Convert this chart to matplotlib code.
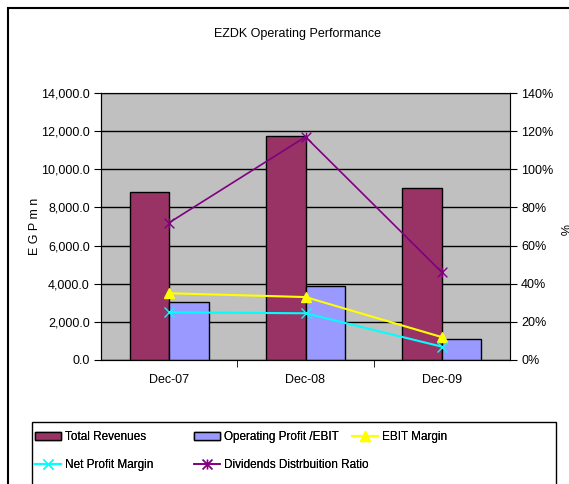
import matplotlib
matplotlib.use("Agg")
import matplotlib.pyplot as plt
from matplotlib.patches import Rectangle
from matplotlib.path import Path
from matplotlib.ticker import FuncFormatter, FixedLocator
import numpy as np

plt.rcParams['font.family'] = ['Liberation Sans Narrow', 'Liberation Sans', 'DejaVu Sans']

# data
periods = ["Dec-07", "Dec-08", "Dec-09"]
total_revenues = [8800, 11750, 9000]
operating_profit = [3050, 3880, 1100]
ebit_margin = [0.35, 0.33, 0.12]
net_profit_margin = [0.25, 0.245, 0.07]
dividend_ratio = [0.72, 1.17, 0.46]

fig = plt.figure(figsize=(5.69, 4.84), dpi=100)
W, H = 569, 484

# outer chart border (cut off on right/bottom like the original)
fig.patches.append(Rectangle((8 / W, -0.1), 1.2, 1.1 - 8 / H, transform=fig.transFigure,
                             fill=False, edgecolor='black', linewidth=1.5))
# legend box
fig.patches.append(Rectangle((32 / W, -0.1), (556 - 32) / W, 0.1 + 1 - 422 / H, transform=fig.transFigure,
                             fill=False, edgecolor='black', linewidth=1.0))

ax = fig.add_axes([101 / W, 1 - 360 / H, (510 - 101) / W, (360 - 93) / H])
ax.set_facecolor('#C0C0C0')
x = np.arange(len(periods))
bw = 0.29
b1 = ax.bar(x - bw / 2, total_revenues, bw, color='#993366', edgecolor='black', linewidth=1, zorder=3,
            label='Total Revenues')
b2 = ax.bar(x + bw / 2, operating_profit, bw, color='#9999FF', edgecolor='black', linewidth=1, zorder=3,
            label='Operating Profit /EBIT')
ax.set_xlim(-0.5, 2.5)
ax.set_ylim(0, 14000)
ax.set_yticks(np.arange(0, 14001, 2000))
ax.yaxis.set_major_formatter(FuncFormatter(lambda v, p: '{:,.1f}'.format(v)))
ax.grid(axis='y', color='black', linewidth=1, zorder=1)
ax.set_xticks(x)
ax.set_xticklabels(periods)
ax.tick_params(axis='x', which='major', length=0, pad=10, labelsize=9)
ax.xaxis.set_minor_locator(FixedLocator([0.5, 1.5]))
ax.tick_params(axis='x', which='minor', length=5, direction='out')
ax.tick_params(axis='y', length=5, direction='out', labelsize=9, pad=3)
ax.set_ylabel('E G P m n', fontsize=9)
ax.yaxis.set_label_coords((41 - 101) / 409, 0.5)
for s in ['top', 'right']:
    ax.spines[s].set_color('#808080')

star = Path([(-1, -1), (1, 1), (-1, 1), (1, -1), (0, -1), (0, 1)],
            [Path.MOVETO, Path.LINETO, Path.MOVETO, Path.LINETO, Path.MOVETO, Path.LINETO])

ax2 = ax.twinx()
ax2.set_ylim(0, 1.4)
ax2.set_yticks(np.arange(0, 1.41, 0.2))
ax2.yaxis.set_major_formatter(FuncFormatter(lambda v, p: '{:.0f}%'.format(v * 100)))
ax2.tick_params(axis='y', length=5, direction='out', labelsize=9, pad=3)
ax2.spines['right'].set_color('black')
l1, = ax2.plot(x, ebit_margin, color='#FFFF00', marker='^', markersize=7, linewidth=1.5,
               label='EBIT Margin')
l2, = ax2.plot(x, net_profit_margin, color='#00FFFF', marker='x', markersize=7, linewidth=1.5,
               label='Net Profit Margin')
l3, = ax2.plot(x, dividend_ratio, color='#800080', marker=star, markersize=7, linewidth=1.2,
               label='Dividends Distrbuition Ratio')
fig.text(563 / W, 1 - 230 / H, '%', rotation=-90, fontsize=9, ha='center', va='center')

fig.text(297 / W, 1 - 34 / H, 'EZDK Operating Performance', fontsize=9, ha='center', va='center')

# legend entries placed one by one, like the Excel layout
entries = [(b1, 'Total Revenues', 35, 437), (b2, 'Operating Profit /EBIT', 194, 437),
           (l1, 'EBIT Margin', 352, 437), (l2, 'Net Profit Margin', 35, 465),
           (l3, 'Dividends Distrbuition Ratio', 194, 465)]
for hnd, txt, px, py in entries:
    lg = fig.legend([hnd], [txt], loc='center left', bbox_to_anchor=(px / W, 1 - py / H),
                    frameon=False, fontsize=8.5, handlelength=2.2, handletextpad=0.3,
                    borderaxespad=0, borderpad=0)
    fig.add_artist(lg)

fig.savefig('out.png', dpi=100)
